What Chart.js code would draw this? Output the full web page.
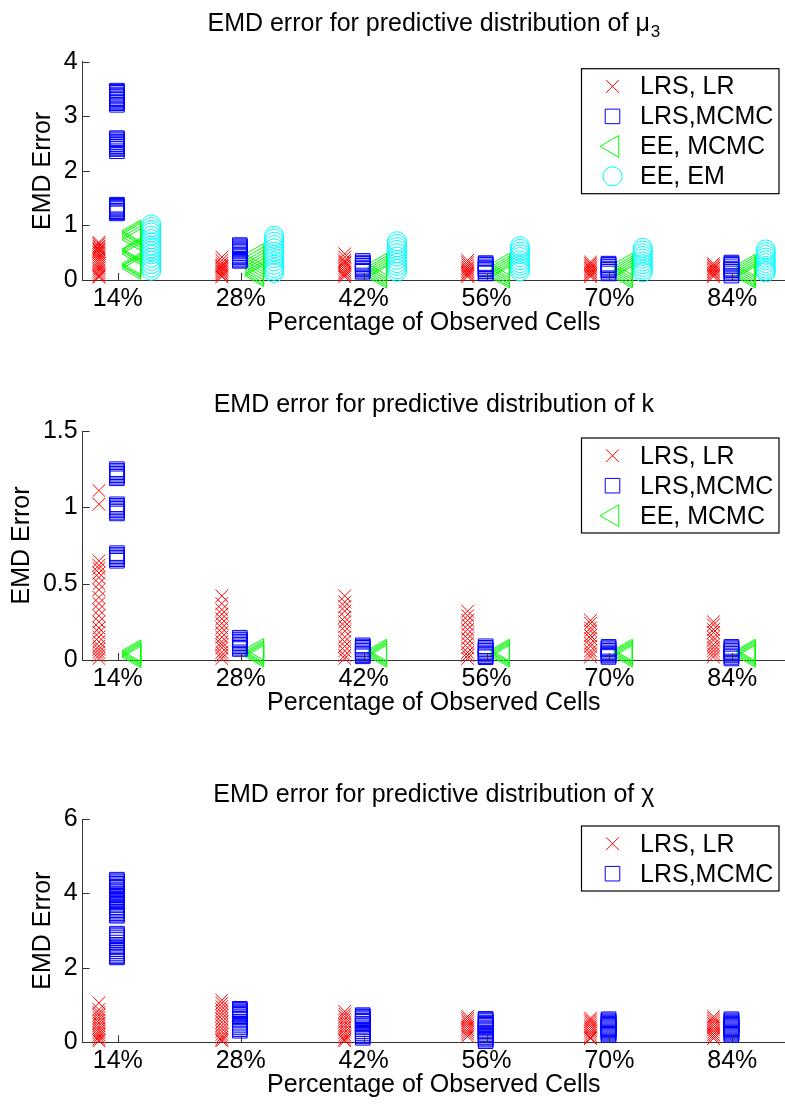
<!DOCTYPE html>
<html>
<head>
<meta charset="utf-8">
<script src="https://cdn.jsdelivr.net/npm/chart.js@4.4.0/dist/chart.umd.min.js"></script>
<style>
  html, body { margin: 0; padding: 0; background: #fff; overflow: hidden; }
  #wrap { position: relative; width: 785px; height: 1104px; }
  canvas { position: absolute; left: 0; }
</style>
</head>
<body>
<div id="wrap">
  <canvas id="mu3Chart" width="785" height="345" style="top:0"></canvas>
  <canvas id="kChart" width="785" height="380" style="top:345px"></canvas>
  <canvas id="chiChart" width="785" height="379" style="top:725px"></canvas>
</div>
<script>
// Percentage of observed cells (x categories)
const pctObserved = [14, 28, 42, 56, 70, 84];

// Panel 1: mu_3
const mu3Ticks = [0, 1, 2, 3, 4];
const mu3LrsLr = [
    [0.69, 0.66, 0.62, 0.6, 0.57, 0.55, 0.52, 0.5, 0.46, 0.42, 0.38, 0.34, 0.3, 0.26, 0.22, 0.18, 0.14, 0.1, 0.07, 0.05],
    [0.42, 0.36, 0.31, 0.27, 0.25, 0.23, 0.2, 0.17, 0.14, 0.11, 0.08, 0.06],
    [0.48, 0.42, 0.36, 0.33, 0.31, 0.27, 0.23, 0.19, 0.15, 0.12, 0.09, 0.06],
    [0.36, 0.32, 0.28, 0.24, 0.21, 0.18, 0.15, 0.12, 0.09, 0.06],
    [0.33, 0.3, 0.27, 0.24, 0.21, 0.18, 0.15, 0.12, 0.09, 0.06],
    [0.3, 0.27, 0.24, 0.21, 0.18, 0.15, 0.12, 0.09, 0.06]
];
const mu3LrsMcmc = [
    [3.47, 3.45, 3.43, 3.4, 3.38, 3.36, 3.33, 3.31, 3.3, 3.27, 3.25, 3.24, 3.21,
     2.6, 2.58, 2.56, 2.53, 2.52, 2.49, 2.48, 2.45, 2.44, 2.41, 2.4, 2.36,
     1.38, 1.36, 1.34, 1.32, 1.3, 1.27, 1.26, 1.24, 1.22],
    [0.64, 0.62, 0.6, 0.58, 0.56, 0.54, 0.52, 0.49, 0.46, 0.44, 0.42, 0.39, 0.37, 0.35],
    [0.35, 0.32, 0.3, 0.29, 0.26, 0.23, 0.21, 0.2, 0.17, 0.15],
    [0.31, 0.29, 0.28, 0.25, 0.22, 0.2, 0.19, 0.16, 0.13, 0.12],
    [0.3, 0.28, 0.27, 0.24, 0.21, 0.19, 0.18, 0.15, 0.12],
    [0.32, 0.3, 0.28, 0.25, 0.21, 0.19, 0.18, 0.15, 0.12, 0.08]
];
const mu3EeMcmc = [
    [0.9, 0.87, 0.84, 0.79, 0.74, 0.57, 0.55, 0.52, 0.48, 0.3, 0.27, 0.25, 0.21],
    [0.47, 0.41, 0.35, 0.3, 0.25, 0.2, 0.15, 0.11, 0.08],
    [0.29, 0.24, 0.2, 0.16, 0.12, 0.08, 0.05],
    [0.29, 0.24, 0.2, 0.16, 0.12, 0.08, 0.05],
    [0.29, 0.24, 0.2, 0.16, 0.12, 0.08, 0.05],
    [0.27, 0.23, 0.19, 0.15, 0.11, 0.08, 0.05]
];
const mu3EeEm = [
    [1.02, 0.97, 0.92, 0.87, 0.81, 0.75, 0.69, 0.63, 0.58, 0.53, 0.47, 0.41, 0.35, 0.29, 0.23, 0.17],
    [0.81, 0.76, 0.7, 0.64, 0.58, 0.52, 0.46, 0.4, 0.34, 0.28, 0.22, 0.17, 0.13],
    [0.71, 0.66, 0.6, 0.55, 0.49, 0.43, 0.37, 0.31, 0.26, 0.2, 0.15],
    [0.62, 0.57, 0.52, 0.47, 0.42, 0.36, 0.31, 0.26, 0.21, 0.16],
    [0.59, 0.54, 0.49, 0.44, 0.39, 0.34, 0.29, 0.24, 0.19, 0.14],
    [0.56, 0.51, 0.46, 0.41, 0.36, 0.31, 0.26, 0.21, 0.17, 0.14]
];

// Panel 2: k
const kTicks = [0, 0.5, 1, 1.5];
const kLrsLr = [
    [1.11, 1.02, 0.65, 0.62, 0.6, 0.57, 0.54, 0.5, 0.46, 0.41, 0.37, 0.33, 0.29, 0.25, 0.21, 0.18, 0.15, 0.12, 0.09, 0.07, 0.05, 0.03, 0.01],
    [0.42, 0.37, 0.33, 0.3, 0.27, 0.24, 0.21, 0.18, 0.15, 0.12, 0.1, 0.08, 0.05, 0.03, 0.01],
    [0.42, 0.38, 0.35, 0.32, 0.28, 0.25, 0.22, 0.19, 0.15, 0.12, 0.09, 0.06, 0.03, 0.01],
    [0.32, 0.29, 0.26, 0.23, 0.2, 0.17, 0.14, 0.11, 0.08, 0.05, 0.03, 0.01],
    [0.26, 0.24, 0.21, 0.19, 0.16, 0.14, 0.11, 0.09, 0.06, 0.04, 0.02],
    [0.25, 0.23, 0.2, 0.18, 0.15, 0.13, 0.1, 0.08, 0.06, 0.04, 0.02]
];
const kLrsMcmc = [
    [1.25, 1.24, 1.23, 1.22, 1.21, 1.2, 1.19, 1.02, 1.01, 1.0, 0.99, 0.98, 0.97, 0.96, 0.7, 0.69, 0.68, 0.67, 0.66, 0.65],
    [0.146, 0.135, 0.13, 0.12, 0.11, 0.1, 0.09, 0.08, 0.072],
    [0.096, 0.088, 0.08, 0.07, 0.06, 0.05, 0.04, 0.032, 0.024],
    [0.09, 0.08, 0.07, 0.06, 0.05, 0.042, 0.035, 0.025, 0.018],
    [0.086, 0.078, 0.07, 0.06, 0.05, 0.042, 0.035, 0.028, 0.02],
    [0.086, 0.078, 0.07, 0.06, 0.05, 0.04, 0.03, 0.02, 0.01]
];
const kEeMcmc = [
    [0.06, 0.05, 0.04, 0.03, 0.02],
    [0.07, 0.055, 0.045, 0.035, 0.025],
    [0.065, 0.055, 0.045, 0.035, 0.025],
    [0.065, 0.055, 0.045, 0.035, 0.025],
    [0.065, 0.055, 0.045, 0.035, 0.025],
    [0.065, 0.055, 0.045, 0.035, 0.025]
];

// Panel 3: chi
const chiTicks = [0, 2, 4, 6];
const chiLrsLr = [
    [1.06, 0.88, 0.8, 0.73, 0.66, 0.59, 0.52, 0.45, 0.38, 0.32, 0.26, 0.2, 0.14, 0.08, 0.04],
    [1.13, 1.05, 0.96, 0.88, 0.8, 0.72, 0.63, 0.54, 0.45, 0.37, 0.29, 0.21, 0.14, 0.08, 0.04],
    [0.83, 0.76, 0.69, 0.62, 0.55, 0.48, 0.41, 0.34, 0.27, 0.2, 0.14, 0.08, 0.04],
    [0.7, 0.64, 0.58, 0.52, 0.46, 0.4, 0.34, 0.28, 0.22, 0.16],
    [0.65, 0.6, 0.55, 0.49, 0.43, 0.37, 0.31, 0.25, 0.19, 0.13, 0.1],
    [0.69, 0.63, 0.57, 0.51, 0.45, 0.39, 0.33, 0.27, 0.21, 0.15, 0.1]
];
const chiLrsMcmc = [
    [4.37, 4.33, 4.3, 4.26, 4.22, 4.18, 4.15, 4.11, 4.08, 4.04, 4.0, 3.95, 3.9, 3.85, 3.8, 3.76, 3.72, 3.68, 3.63, 3.59, 3.55, 3.51, 3.47, 3.43, 3.4,
     2.92, 2.88, 2.85, 2.8, 2.75, 2.68, 2.62, 2.58, 2.55, 2.5, 2.45, 2.4, 2.35, 2.31, 2.28],
    [0.9, 0.88, 0.86, 0.83, 0.8, 0.77, 0.74, 0.7, 0.67, 0.63, 0.6, 0.55, 0.5, 0.45, 0.4, 0.35, 0.31],
    [0.73, 0.7, 0.68, 0.65, 0.62, 0.58, 0.55, 0.5, 0.48, 0.44, 0.4, 0.35, 0.3, 0.25, 0.2, 0.16, 0.12],
    [0.63, 0.6, 0.57, 0.53, 0.5, 0.47, 0.44, 0.4, 0.37, 0.33, 0.3, 0.26, 0.22, 0.18, 0.14, 0.1, 0.07, 0.03],
    [0.62, 0.59, 0.56, 0.53, 0.5, 0.47, 0.44, 0.41, 0.38, 0.35, 0.32, 0.29, 0.26, 0.23, 0.2],
    [0.62, 0.59, 0.56, 0.53, 0.5, 0.47, 0.44, 0.41, 0.38, 0.35, 0.32, 0.29, 0.26, 0.23, 0.2]
];

// Marker styles per method (dx = small horizontal dodge within a group)
const SERIES = {
    lrsLr:   { label: 'LRS, LR',  color: '#ff0000', style: 'crossRot', radius: 9,    dx: -2.15 },
    lrsMcmc: { label: 'LRS,MCMC', color: '#0000ff', style: 'rect',     radius: 10.3, dx: -0.1 },
    eeMcmc:  { label: 'EE, MCMC', color: '#00ff00', style: 'triangle', radius: 12.5, dx: 1.9, rotation: -90 },
    eeEm:    { label: 'EE, EM',   color: '#00ffff', style: 'circle',   radius: 9.5,  dx: 3.8 }
};

const FONT = '"Liberation Sans", Arial, Helvetica, sans-serif';
Chart.defaults.font.family = FONT;
Chart.defaults.color = '#000';

function makeSet(key, groups) {
    const s = SERIES[key];
    const pts = [];
    groups.forEach((vals, i) => {
        vals.forEach(v => pts.push({ x: pctObserved[i] + s.dx, y: v }));
    });
    return {
        label: s.label,
        data: pts,
        showLine: false,
        clip: false,
        pointStyle: s.style,
        pointRadius: s.radius,
        pointHoverRadius: s.radius,
        pointRotation: s.rotation || 0,
        pointBorderColor: s.color,
        pointBackgroundColor: 'rgba(0,0,0,0)',
        pointBorderWidth: 1,
        borderColor: s.color,
        backgroundColor: 'rgba(0,0,0,0)'
    };
}

// hand drawn marker for the legend box
function drawMarker(ctx, s, x, y) {
    const r = s.radius;
    ctx.beginPath();
    if (s.style === 'crossRot') {
        const d = r * Math.SQRT1_2;
        ctx.moveTo(x - d, y - d); ctx.lineTo(x + d, y + d);
        ctx.moveTo(x - d, y + d); ctx.lineTo(x + d, y - d);
    } else if (s.style === 'rect') {
        const d = r * Math.SQRT1_2;
        ctx.rect(x - d, y - d, 2 * d, 2 * d);
    } else if (s.style === 'triangle') {
        ctx.moveTo(x - r, y);
        ctx.lineTo(x + r / 2, y - r * 0.866);
        ctx.lineTo(x + r / 2, y + r * 0.866);
        ctx.closePath();
    } else {
        ctx.arc(x, y, r, 0, 2 * Math.PI);
    }
    ctx.strokeStyle = s.color;
    ctx.lineWidth = 1;
    ctx.stroke();
}

// MATLAB style inward tick marks
const innerTicks = {
    id: 'innerTicks',
    afterDraw(chart) {
        const ctx = chart.ctx, xs = chart.scales.x, ys = chart.scales.y, a = chart.chartArea;
        ctx.save();
        ctx.strokeStyle = '#333';
        ctx.lineWidth = 1;
        ctx.beginPath();
        xs.ticks.forEach(t => {
            const px = Math.round(xs.getPixelForValue(t.value)) + 0.5;
            ctx.moveTo(px, a.bottom);
            ctx.lineTo(px, a.bottom - 7);
        });
        ys.ticks.forEach(t => {
            const py = Math.round(ys.getPixelForValue(t.value)) + 0.5;
            ctx.moveTo(a.left, py);
            ctx.lineTo(a.left + 7, py);
        });
        ctx.stroke();
        ctx.restore();
    }
};

// title with optional subscript
const plotTitle = {
    id: 'plotTitle',
    afterDraw(chart, args, opts) {
        const ctx = chart.ctx, a = chart.chartArea;
        const mainFont = '25px ' + FONT, subFont = '17px ' + FONT;
        ctx.save();
        ctx.font = mainFont;
        const w1 = ctx.measureText(opts.text).width;
        ctx.font = subFont;
        const w2 = opts.sub ? ctx.measureText(opts.sub).width + 1 : 0;
        const x0 = (a.left + a.right) / 2 - (w1 + w2) / 2;
        ctx.fillStyle = '#000';
        ctx.textAlign = 'left';
        ctx.textBaseline = 'alphabetic';
        ctx.font = mainFont;
        ctx.fillText(opts.text, x0, opts.baseline);
        if (opts.sub) {
            ctx.font = subFont;
            ctx.fillText(opts.sub, x0 + w1 + 1, opts.baseline + 6);
        }
        ctx.restore();
    }
};

// boxed legend in the top right corner of the axes
const boxLegend = {
    id: 'boxLegend',
    afterDraw(chart, args, opts) {
        const ctx = chart.ctx, a = chart.chartArea;
        const keys = opts.keys;
        const right = a.right - 6, left = right - 197.5;
        const top = a.top + 7;
        const h = 35 + 30 * (keys.length - 1);
        ctx.save();
        ctx.fillStyle = '#fff';
        ctx.fillRect(left, top, right - left, h);
        ctx.strokeStyle = '#000';
        ctx.lineWidth = 1.2;
        ctx.strokeRect(left, top, right - left, h);
        ctx.font = '25px ' + FONT;
        ctx.textAlign = 'left';
        ctx.textBaseline = 'middle';
        keys.forEach((k, i) => {
            const y = top + 17.7 + 30 * i;
            drawMarker(ctx, SERIES[k], left + 31, y);
            ctx.fillStyle = '#000';
            ctx.fillText(SERIES[k].label, left + 58.5, y + 1);
        });
        ctx.restore();
    }
};

function makeChart(id, cfg) {
    const tickFont = { size: 25, lineHeight: 1 };
    const axisLeft = 82.7;
    return new Chart(document.getElementById(id), {
        type: 'scatter',
        data: { datasets: cfg.sets },
        plugins: [innerTicks, plotTitle, boxLegend],
        options: {
            responsive: false,
            animation: false,
            devicePixelRatio: 1,
            layout: { autoPadding: false, padding: { left: cfg.left, right: 0, top: cfg.top, bottom: cfg.bottom } },
            plugins: {
                legend: { display: false },
                tooltip: { enabled: false },
                plotTitle: { text: cfg.title, sub: cfg.sub, baseline: cfg.titleBase },
                boxLegend: { keys: cfg.keys }
            },
            scales: {
                x: {
                    type: 'linear',
                    min: 10,
                    max: 90,
                    grid: { display: false, drawTicks: false },
                    border: { display: true, color: '#333', width: 1 },
                    afterBuildTicks: s => { s.ticks = pctObserved.map(v => ({ value: v })); },
                    afterFit: s => { s.height = 55.5; s.paddingLeft = 0; s.paddingRight = 0; },
                    ticks: { font: tickFont, padding: 6.5, maxRotation: 0, autoSkip: false, callback: v => v + '%' },
                    title: { display: true, text: 'Percentage of Observed Cells', font: tickFont, padding: 0 }
                },
                y: {
                    min: 0,
                    max: cfg.yTicks[cfg.yTicks.length - 1],
                    grid: { display: false, drawTicks: false },
                    border: { display: true, color: '#333', width: 1 },
                    afterBuildTicks: s => { s.ticks = cfg.yTicks.map(v => ({ value: v })); },
                    afterFit: s => { s.width = axisLeft - cfg.left; s.paddingTop = 0; s.paddingBottom = 0; },
                    ticks: { font: tickFont, padding: 5, callback: v => String(v) },
                    title: { display: true, text: 'EMD Error', font: tickFont, padding: 0 }
                }
            }
        }
    });
}

makeChart('mu3Chart', {
    title: 'EMD error for predictive distribution of \u03bc', sub: '3', titleBase: 30.7,
    left: 30.5, top: 61.7, bottom: 9.5, yTicks: mu3Ticks,
    keys: ['lrsLr', 'lrsMcmc', 'eeMcmc', 'eeEm'],
    sets: [makeSet('lrsLr', mu3LrsLr), makeSet('lrsMcmc', mu3LrsMcmc), makeSet('eeMcmc', mu3EeMcmc), makeSet('eeEm', mu3EeEm)]
});

makeChart('kChart', {
    title: 'EMD error for predictive distribution of k', sub: '', titleBase: 66.7,
    left: 10, top: 86, bottom: 9.5, yTicks: kTicks,
    keys: ['lrsLr', 'lrsMcmc', 'eeMcmc'],
    sets: [makeSet('lrsLr', kLrsLr), makeSet('lrsMcmc', kLrsMcmc), makeSet('eeMcmc', kEeMcmc)]
});

makeChart('chiChart', {
    title: 'EMD error for predictive distribution of \u03c7', sub: '', titleBase: 76.7,
    left: 30.5, top: 94, bottom: 6.2, yTicks: chiTicks,
    keys: ['lrsLr', 'lrsMcmc'],
    sets: [makeSet('lrsLr', chiLrsLr), makeSet('lrsMcmc', chiLrsMcmc)]
});
</script>
</body>
</html>
